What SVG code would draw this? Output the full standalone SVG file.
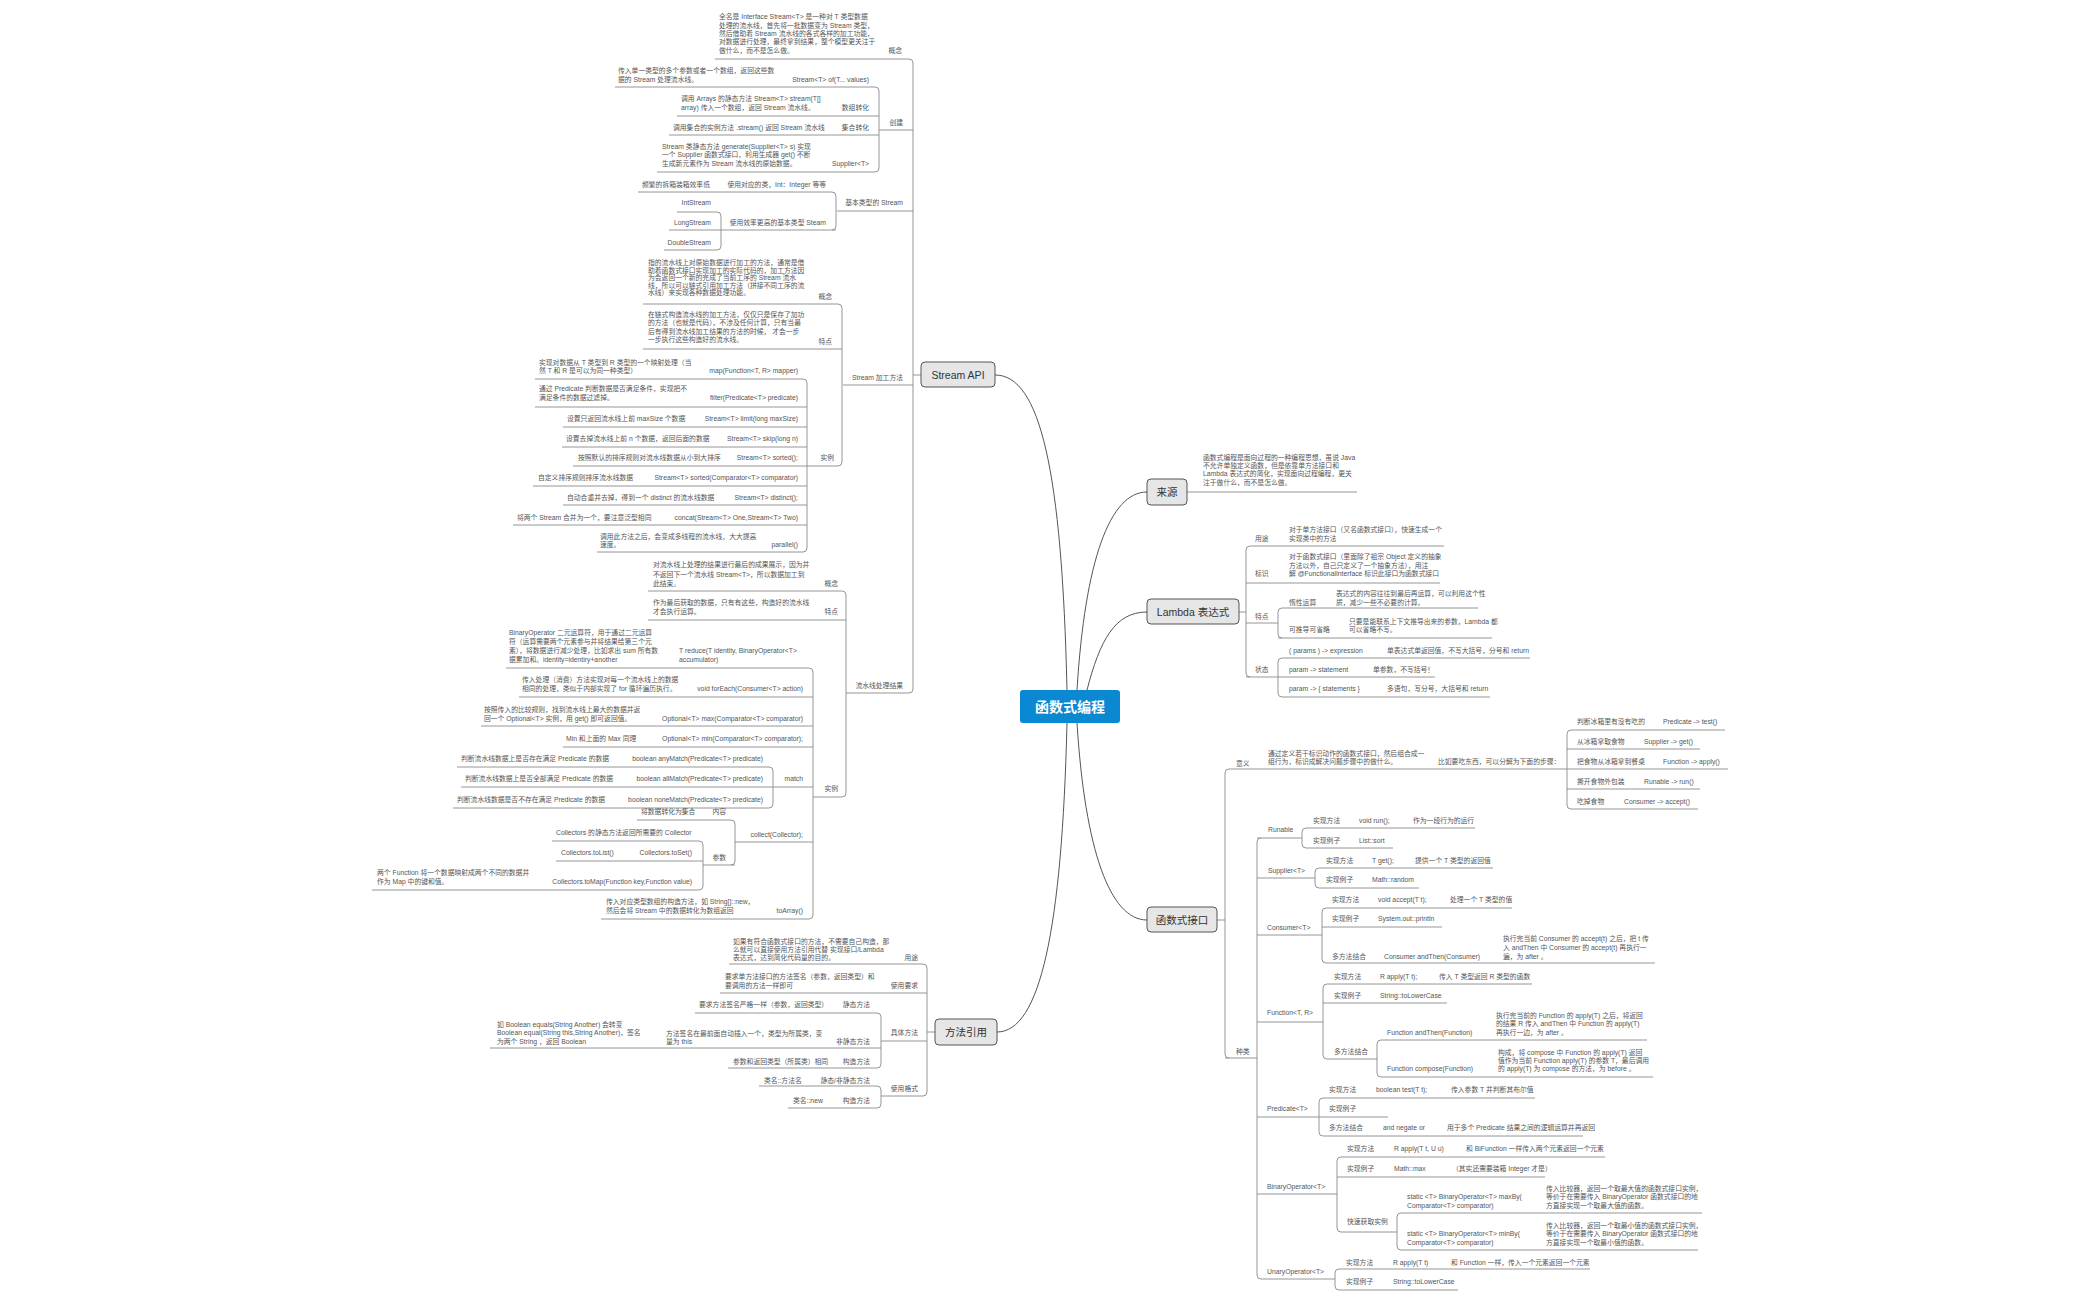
<svg xmlns="http://www.w3.org/2000/svg" width="2100" height="1300" viewBox="0 0 2100 1300">
<style>
text{font-family:"Liberation Sans","Noto Sans CJK SC",sans-serif;fill:#555;font-size:6.8px}
.e{text-anchor:end}
.l{stroke:#8a8a8a;stroke-width:0.9;fill:none}
.c{stroke:#555;stroke-width:1;fill:none}
.nb{fill:#e6e6e6;stroke:#555;stroke-width:1}
.nt{font-size:10.5px;fill:#333;text-anchor:middle}
</style>
<rect width="2100" height="1300" fill="#fff"/>
<g id="connectors">
<path class="c" d="M1067,690 C1062,470 1040,375 995,375"/>
<path class="c" d="M1077,690 C1085,560 1110,492 1147,492"/>
<path class="c" d="M1087,690 C1100,640 1115,612 1147,612"/>
<path class="c" d="M1077,723 C1085,850 1110,920 1147,920"/>
<path class="c" d="M1067,723 C1062,930 1040,1032 997,1032"/>
<!-- Stream API -->
<path class="l" d="M913,375H921 M909,59 Q913,59 913,63 V689 Q913,693 909,693 M715,59H909
M879,130H913 M875,87 Q879,87 879,91 V168 Q879,172 875,172 M615,87H875 M677,116H879 M669,135H879 M657,172H875
M837,211H913 M832,192 Q836,192 836,196 V226 Q836,230 832,230 M638,192H832 M721,230H836 M717,212 Q721,212 721,216 V246 Q721,250 717,250 M677,212H717 M669,230H721 M664,250H717
M843,385H913 M838,304 Q842,304 842,308 V462 Q842,466 838,466 M643,304H838 M643,349H842 M807,466H838
M803,379 Q807,379 807,383 V548 Q807,552 803,552 M535,379H803 M535,407H807 M563,427H807 M562,447H807 M573,466H807 M533,486H807 M563,505H807 M513,525H807 M597,552H803
M846,693H909 M842,591 Q846,591 846,595 V793 Q846,797 842,797 M648,591H842 M648,620H846 M813,797H842
M809,668 Q813,668 813,672 V915 Q813,919 809,919 M506,668H809 M519,697H813 M481,726H813 M563,747H813 M773,787H813
M769,767 Q773,767 773,771 V804 Q773,808 769,808 M457,767H769 M461,787H773 M453,808H769
M735,842H813 M731,820 Q735,820 735,824 V861 Q735,865 731,865 M637,820H731 M703,865H735
M699,841 Q703,841 703,845 V886 Q703,890 699,890 M552,841H699 M556,861H703 M372,890H699 M601,919H809"/>
<!-- 来源 / Lambda -->
<path class="l" d="M1187,492H1357 M1239,612H1246 M1250,546 Q1246,546 1246,550 V673 Q1246,677 1250,677 M1250,546H1444 M1246,583H1440 M1246,623H1278 M1246,677H1278
M1282,608 Q1278,608 1278,612 V634 Q1278,638 1282,638 M1282,608H1478 M1278,638H1492
M1282,658 Q1278,658 1278,662 V693 Q1278,697 1282,697 M1282,658H1530 M1278,677H1435 M1282,697H1490"/>
<!-- 函数式接口 -->
<path class="l" d="M1217,920H1225 M1229,769 Q1225,769 1225,773 V1054 Q1225,1058 1229,1058 M1229,769H1567 M1225,1058H1257
M1571,730 Q1567,730 1567,734 V805 Q1567,809 1571,809 M1571,730H1725 M1567,749H1700 M1567,769H1728 M1567,789H1700 M1571,809H1698
M1261,838 Q1257,838 1257,842 V1275 Q1257,1279 1261,1279
M1257,838H1302 M1306,828 Q1302,828 1302,832 V844 Q1302,848 1306,848 M1306,828H1475 M1306,848H1393
M1257,878H1315 M1319,868 Q1315,868 1315,872 V884 Q1315,888 1319,888 M1319,868H1493 M1319,888H1419
M1257,935H1322 M1326,908 Q1322,908 1322,912 V959 Q1322,963 1326,963 M1326,908H1512 M1322,927H1442 M1326,963H1655
M1257,1022H1323 M1327,984 Q1323,984 1323,988 V1055 Q1323,1059 1327,1059 M1327,984H1532 M1323,1003H1447 M1327,1059H1377
M1381,1040 Q1377,1040 1377,1044 V1073 Q1377,1077 1381,1077 M1381,1040H1647 M1381,1077H1653
M1257,1117H1319 M1323,1098 Q1319,1098 1319,1102 V1132 Q1319,1136 1323,1136 M1323,1098H1535 M1319,1117H1388 M1323,1136H1583
M1257,1194H1337 M1341,1157 Q1337,1157 1337,1161 V1228 Q1337,1232 1341,1232 M1341,1157H1605 M1337,1177H1545 M1341,1232H1397
M1401,1213 Q1397,1213 1397,1217 V1246 Q1397,1250 1401,1250 M1401,1213H1702 M1401,1250H1698
M1261,1279H1335 M1339,1269 Q1335,1269 1335,1273 V1286 Q1335,1290 1339,1290 M1339,1269H1590 M1339,1290H1458"/>
<!-- 方法引用 -->
<path class="l" d="M927,1032H935 M923,964 Q927,964 927,968 V1092 Q927,1096 923,1096 M729,964H923 M720,993H927 M881,1041H927 M881,1096H923
M877,1013 Q881,1013 881,1017 V1064 Q881,1068 877,1068 M695,1013H877 M490,1048H881 M728,1068H877
M877,1086 Q881,1086 881,1090 V1104 Q881,1108 877,1108 M759,1086H877 M788,1108H877"/>
</g>
<g id="center"><rect x="1020" y="690" width="100" height="33" rx="3" fill="#0a88d2"/><text x="1070" y="711.5" style="font-size:14px;font-weight:bold;fill:#fff;text-anchor:middle">函数式编程</text></g>
<g id="stream-api">
<rect class="nb" x="921" y="362" width="74" height="25" rx="4"/><text class="nt" x="958" y="378.5">Stream API</text>
<text x="719" y="19">全名是 Interface Stream&lt;T&gt; 是一种对 T 类型数据</text>
<text x="719" y="27.5">处理的流水线，首先将一批数据变为 Stream 类型，</text>
<text x="719" y="36">然后借助着 Stream 流水线的各式各样的加工功能，</text>
<text x="719" y="44">对数据进行处理，最终拿到结果，整个模型更关注于</text>
<text x="719" y="53">做什么，而不是怎么做。</text>
<text class="e" x="902" y="53">概念</text>
<text class="e" x="903" y="125">创建</text>
<text x="618" y="73">传入单一类型的多个参数或者一个数组，返回这些数</text>
<text x="618" y="82">据的 Stream 处理流水线。</text>
<text class="e" x="869" y="82">Stream&lt;T&gt; of(T... values)</text>
<text x="681" y="101">调用 Arrays 的静态方法 Stream&lt;T&gt; stream(T[]</text>
<text x="681" y="110">array) 传入一个数组，返回 Stream 流水线。</text>
<text class="e" x="869" y="110">数组转化</text>
<text x="673" y="130">调用集合的实例方法 .stream() 返回 Stream 流水线</text>
<text class="e" x="869" y="130">集合转化</text>
<text x="662" y="149">Stream 类静态方法 generate(Supplier&lt;T&gt; s) 实现</text>
<text x="662" y="157">一个 Supplier 函数式接口，利用生成器 get() 不断</text>
<text x="662" y="166">生成新元素作为 Stream 流水线的原始数据。</text>
<text class="e" x="869" y="166">Supplier&lt;T&gt;</text>
<text class="e" x="903" y="205">基本类型的 Stream</text>
<text x="642" y="187">频繁的拆箱装箱效率低</text>
<text class="e" x="826" y="187">使用对应的类，Int：Integer 等等</text>
<text class="e" x="826" y="225">使用效率更高的基本类型 Steam</text>
<text class="e" x="711" y="205">IntStream</text>
<text class="e" x="711" y="225">LongStream</text>
<text class="e" x="711" y="245">DoubleStream</text>
<text class="e" x="903" y="380">Stream 加工方法</text>
<text x="648" y="265">指的流水线上对原始数据进行加工的方法，通常是借</text>
<text x="648" y="272.5">助着函数式接口实现加工的实际代码的，加工方法因</text>
<text x="648" y="280">为会返回一个新的完成了当前工序的 Stream 流水</text>
<text x="648" y="287.5">线，所以可以链式引用加工方法（拼接不同工序的流</text>
<text x="648" y="295">水线）来实现各种数据处理功能。</text>
<text class="e" x="832" y="299">概念</text>
<text x="648" y="317">在链式构造流水线的加工方法，仅仅只是保存了加功</text>
<text x="648" y="325">的方法（也就是代码），不涉及任何计算，只有当最</text>
<text x="648" y="334">后有得到流水线加工结果的方法的时候， 才会一步</text>
<text x="648" y="342">一步执行这些构造好的流水线。</text>
<text class="e" x="832" y="344">特点</text>
<text class="e" x="834" y="460">实例</text>
<text x="539" y="365">实现对数据从 T 类型到 R 类型的一个映射处理（当</text>
<text x="539" y="373">然 T 和 R 是可以为同一种类型）</text>
<text class="e" x="798" y="373">map(Function&lt;T, R&gt; mapper)</text>
<text x="539" y="391">通过 Predicate 判断数据是否满足条件，实现把不</text>
<text x="539" y="400">满足条件的数据过滤掉。</text>
<text class="e" x="798" y="400">filter(Predicate&lt;T&gt; predicate)</text>
<text x="567" y="421">设置只返回流水线上前 maxSize 个数据</text>
<text class="e" x="798" y="421">Stream&lt;T&gt; limit(long maxSize)</text>
<text x="566" y="441">设置去掉流水线上前 n 个数据，返回后面的数据</text>
<text class="e" x="798" y="441">Stream&lt;T&gt; skip(long n)</text>
<text x="578" y="460">按照默认的排序规则对流水线数据从小到大排序</text>
<text class="e" x="798" y="460">Stream&lt;T&gt; sorted();</text>
<text x="538" y="480">自定义排序规则排序流水线数据</text>
<text class="e" x="798" y="480">Stream&lt;T&gt; sorted(Comparator&lt;T&gt; comparator)</text>
<text x="567" y="500">自动合重并去掉，得到一个 distinct 的流水线数据</text>
<text class="e" x="798" y="500">Stream&lt;T&gt; distinct();</text>
<text x="517" y="520">将两个 Stream 合并为一个，要注意泛型相同</text>
<text class="e" x="798" y="520">concat(Stream&lt;T&gt; One,Stream&lt;T&gt; Two)</text>
<text x="600" y="539">调用此方法之后，会变成多线程的流水线，大大提高</text>
<text x="600" y="547">速度。</text>
<text class="e" x="798" y="547">parallel()</text>
<text class="e" x="903" y="688">流水线处理结果</text>
<text x="653" y="567">对流水线上处理的结果进行最后的成果展示，因为并</text>
<text x="653" y="577">不返回下一个流水线 Stream&lt;T&gt;，所以数据加工到</text>
<text x="653" y="586">此结束。</text>
<text class="e" x="838" y="586">概念</text>
<text x="653" y="605">作为最后获取的数据，只有有这些，构造好的流水线</text>
<text x="653" y="614">才会执行运算。</text>
<text class="e" x="838" y="614">特点</text>
<text class="e" x="838" y="791">实例</text>
<text x="509" y="635">BinaryOperator 二元运算符，用于通过二元运算</text>
<text x="509" y="644">符（运算需要两个元素参与并将结果给第三个元</text>
<text x="509" y="653">素），将数据进行减少处理，比如求出 sum 所有数</text>
<text x="509" y="662">据累加和。identity=identiry+another</text>
<text x="679" y="653">T reduce(T identity, BinaryOperator&lt;T&gt;</text>
<text x="679" y="662">accumulator)</text>
<text x="522" y="682">传入处理（消费）方法实现对每一个流水线上的数据</text>
<text x="522" y="691">相同的处理，类似于内部实现了 for 循环遍历执行。</text>
<text class="e" x="803" y="691">void forEach(Consumer&lt;T&gt; action)</text>
<text x="484" y="712">按照传入的比较规则，找到流水线上最大的数据并返</text>
<text x="484" y="721">回一个 Optional&lt;T&gt; 实例，用 get() 即可返回值。</text>
<text class="e" x="803" y="721">Optional&lt;T&gt; max(Comparator&lt;T&gt; comparator)</text>
<text x="566" y="741">Min 和上面的 Max 同理</text>
<text class="e" x="803" y="741">Optional&lt;T&gt; min(Comparator&lt;T&gt; comparator);</text>
<text class="e" x="803" y="781">match</text>
<text x="461" y="761">判断流水线数据上是否存在满足 Predicate 的数据</text>
<text class="e" x="763" y="761">boolean anyMatch(Predicate&lt;T&gt; predicate)</text>
<text x="465" y="781">判断流水线数据上是否全部满足 Predicate 的数据</text>
<text class="e" x="763" y="781">boolean allMatch(Predicate&lt;T&gt; predicate)</text>
<text x="457" y="802">判断流水线数据是否不存在满足 Predicate 的数据</text>
<text class="e" x="763" y="802">boolean noneMatch(Predicate&lt;T&gt; predicate)</text>
<text class="e" x="803" y="837">collect(Collector);</text>
<text x="641" y="814">将数据转化为集合</text>
<text class="e" x="726" y="814">内容</text>
<text class="e" x="726" y="860">参数</text>
<text x="556" y="835">Collectors 的静态方法返回所需要的 Collector</text>
<text x="561" y="855">Collectors.toList()</text>
<text class="e" x="692" y="855">Collectors.toSet()</text>
<text x="377" y="875">两个 Function 将一个数据映射成两个不同的数据并</text>
<text x="377" y="884">作为 Map 中的键和值。</text>
<text class="e" x="692" y="884">Collectors.toMap(Function key,Function value)</text>
<text x="606" y="904">传入对应类型数组的构造方法，如 String[]::new，</text>
<text x="606" y="913">然后会将 Stream 中的数据转化为数组返回</text>
<text class="e" x="803" y="913">toArray()</text>
</g>
<g id="source">
<rect class="nb" x="1147" y="479" width="40" height="26" rx="4"/><text class="nt" x="1167" y="496">来源</text>
<text x="1203" y="460">函数式编程是面向过程的一种编程思想，虽说 Java</text>
<text x="1203" y="468">不允许单独定义函数，但是依靠单方法接口和</text>
<text x="1203" y="476">Lambda 表达式的简化，实现面向过程编程，更关</text>
<text x="1203" y="485">注于做什么，而不是怎么做。</text>
</g>
<g id="lambda">
<rect class="nb" x="1147" y="599" width="92" height="25" rx="4"/><text class="nt" x="1193" y="615.5">Lambda 表达式</text>
<text x="1255" y="541">用途</text>
<text x="1289" y="532">对于单方法接口（又名函数式接口），快速生成一个</text>
<text x="1289" y="541">实现类中的方法</text>
<text x="1255" y="576">标识</text>
<text x="1289" y="559">对于函数式接口（里面除了祖宗 Object 定义的抽象</text>
<text x="1289" y="568">方法以外，自己只定义了一个抽象方法），用注</text>
<text x="1289" y="576">解 @FunctionalInterface 标识此接口为函数式接口</text>
<text x="1255" y="619">特点</text>
<text x="1289" y="605">惰性运算</text>
<text x="1336" y="596">表达式的内容往往到最后再运算，可以利用这个性</text>
<text x="1336" y="605">质，减少一些不必要的计算。</text>
<text x="1289" y="632">可推导可省略</text>
<text x="1349" y="624">只要是能联系上下文推导出来的参数，Lambda 都</text>
<text x="1349" y="632">可以省略不写。</text>
<text x="1255" y="672">状态</text>
<text x="1289" y="653">( params ) -&gt; expression</text>
<text x="1387" y="653">单表达式单返回值，不写大括号，分号和 return</text>
<text x="1289" y="672">param -&gt; statement</text>
<text x="1373" y="672">单参数，不写括号！</text>
<text x="1289" y="691">param  -&gt; { statements }</text>
<text x="1387" y="691">多语句，写分号，大括号和 return</text>
</g>
<g id="functional-interface">
<rect class="nb" x="1147" y="907" width="70" height="25" rx="4"/><text class="nt" x="1182" y="923.5">函数式接口</text>
<text x="1236" y="766">意义</text>
<text x="1268" y="756">通过定义若干标识动作的函数式接口，然后组合成一</text>
<text x="1268" y="764">组行为，标识成解决问题步骤中的做什么。</text>
<text x="1438" y="764">比如要吃东西，可以分解为下面的步骤：</text>
<text x="1577" y="724">判断冰箱里有没有吃的</text><text x="1663" y="724">Predicate -&gt; test()</text>
<text x="1577" y="744">从冰箱拿取食物</text><text x="1644" y="744">Supplier -&gt; get()</text>
<text x="1577" y="764">把食物从冰箱拿到餐桌</text><text x="1663" y="764">Function -&gt; apply()</text>
<text x="1577" y="784">撕开食物外包装</text><text x="1644" y="784">Runable -&gt; run()</text>
<text x="1577" y="804">吃掉食物</text><text x="1624" y="804">Consumer -&gt; accept()</text>
<text x="1236" y="1054">种类</text>
<text x="1268" y="832">Runable</text>
<text x="1313" y="823">实现方法</text><text x="1359" y="823">void run();</text><text x="1413" y="823">作为一段行为的运行</text>
<text x="1313" y="843">实现例子</text><text x="1359" y="843">List::sort</text>
<text x="1268" y="873">Supplier&lt;T&gt;</text>
<text x="1326" y="863">实现方法</text><text x="1372" y="863">T get();</text><text x="1415" y="863">提供一个 T 类型的返回值</text>
<text x="1326" y="882">实现例子</text><text x="1372" y="882">Math::random</text>
<text x="1267" y="930">Consumer&lt;T&gt;</text>
<text x="1332" y="902">实现方法</text><text x="1378" y="902">void accept(T t);</text><text x="1450" y="902">处理一个 T 类型的值</text>
<text x="1332" y="921">实现例子</text><text x="1378" y="921">System.out::println</text>
<text x="1332" y="959">多方法结合</text><text x="1384" y="959">Consumer andThen(Consumer)</text>
<text x="1503" y="941">执行完当前 Consumer 的 accept(t) 之后，把 t 传</text>
<text x="1503" y="950">入 andThen 中 Consumer 的 accept(t) 再执行一</text>
<text x="1503" y="959">遍，为 after 。</text>
<text x="1267" y="1015">Function&lt;T, R&gt;</text>
<text x="1334" y="979">实现方法</text><text x="1380" y="979">R apply(T t);</text><text x="1439" y="979">传入 T 类型返回 R 类型的函数</text>
<text x="1334" y="998">实现例子</text><text x="1380" y="998">String::toLowerCase</text>
<text x="1334" y="1054">多方法结合</text>
<text x="1387" y="1035">Function andThen(Function)</text>
<text x="1496" y="1018">执行完当前的 Function 的 apply(T) 之后，将返回</text>
<text x="1496" y="1026">的结果 R 传入 andThen 中 Function 的 apply(T)</text>
<text x="1496" y="1035">再执行一边，为 after 。</text>
<text x="1387" y="1071">Function compose(Function)</text>
<text x="1498" y="1055">构成，将 compose 中 Function 的 apply(T) 返回</text>
<text x="1498" y="1063">值作为当前 Function apply(T) 的参数 T，最后调用</text>
<text x="1498" y="1071">的 apply(T) 为 compose 的方法，为 before 。</text>
<text x="1267" y="1111">Predicate&lt;T&gt;</text>
<text x="1329" y="1092">实现方法</text><text x="1376" y="1092">boolean test(T t);</text><text x="1451" y="1092">传入参数 T 并判断其布尔值</text>
<text x="1329" y="1111">实现例子</text>
<text x="1329" y="1130">多方法结合</text><text x="1383" y="1130">and negate or</text><text x="1447" y="1130">用于多个 Predicate 结果之间的逻辑运算并再返回</text>
<text x="1267" y="1189">BinaryOperator&lt;T&gt;</text>
<text x="1347" y="1151">实现方法</text><text x="1394" y="1151">R apply(T t, U u)</text><text x="1466" y="1151">和 BiFunction 一样传入两个元素返回一个元素</text>
<text x="1347" y="1171">实现例子</text><text x="1394" y="1171">Math::max</text><text x="1452" y="1171">（其实还需要装箱 Integer 才是）</text>
<text x="1347" y="1224">快速获取实例</text>
<text x="1407" y="1199">static &lt;T&gt; BinaryOperator&lt;T&gt; maxBy(</text>
<text x="1407" y="1208">Comparator&lt;T&gt; comparator)</text>
<text x="1546" y="1191">传入比较器，返回一个取最大值的函数式接口实例，</text>
<text x="1546" y="1199">等价于在需要传入 BinaryOperator 函数式接口的地</text>
<text x="1546" y="1208">方直接实现一个取最大值的函数。</text>
<text x="1407" y="1236">static &lt;T&gt; BinaryOperator&lt;T&gt; minBy(</text>
<text x="1407" y="1245">Comparator&lt;T&gt; comparator)</text>
<text x="1546" y="1228">传入比较器，返回一个取最小值的函数式接口实例，</text>
<text x="1546" y="1236">等价于在需要传入 BinaryOperator 函数式接口的地</text>
<text x="1546" y="1245">方直接实现一个取最小值的函数。</text>
<text x="1267" y="1274">UnaryOperator&lt;T&gt;</text>
<text x="1346" y="1265">实现方法</text><text x="1393" y="1265">R apply(T t)</text><text x="1451" y="1265">和 Function 一样，传入一个元素返回一个元素</text>
<text x="1346" y="1284">实现例子</text><text x="1393" y="1284">String::toLowerCase</text>
</g>
<g id="method-reference">
<rect class="nb" x="935" y="1019" width="62" height="26" rx="4"/><text class="nt" x="966" y="1036">方法引用</text>
<text x="733" y="944">如果有符合函数式接口的方法，不需要自己构造，那</text>
<text x="733" y="952">么就可以直接使用方法引用代替 实现接口/Lambda</text>
<text x="733" y="960">表达式，达到简化代码量的目的。</text>
<text class="e" x="918" y="960">用途</text>
<text x="725" y="979">要求单方法接口的方法签名（参数，返回类型）和</text>
<text x="725" y="988">要调用的方法一样即可</text>
<text class="e" x="918" y="988">使用要求</text>
<text class="e" x="918" y="1035">具体方法</text>
<text x="699" y="1007">要求方法签名严格一样（参数，返回类型）</text>
<text class="e" x="870" y="1007">静态方法</text>
<text x="497" y="1027">如 Boolean equals(String Another) 会转变</text>
<text x="497" y="1035">Boolean equal(String this,String Another)，签名</text>
<text x="497" y="1044">为两个 String ，返回 Boolean</text>
<text x="666" y="1036">方法签名在最前面自动插入一个，类型为所属类，变</text>
<text x="666" y="1044">量为 this</text>
<text class="e" x="870" y="1044">非静态方法</text>
<text x="733" y="1064">参数和返回类型（所属类）相同</text>
<text class="e" x="870" y="1064">构造方法</text>
<text class="e" x="918" y="1091">使用格式</text>
<text x="764" y="1083">类名::方法名</text>
<text class="e" x="870" y="1083">静态/非静态方法</text>
<text x="793" y="1103">类名::new</text>
<text class="e" x="870" y="1103">构造方法</text>
</g>
</svg>
